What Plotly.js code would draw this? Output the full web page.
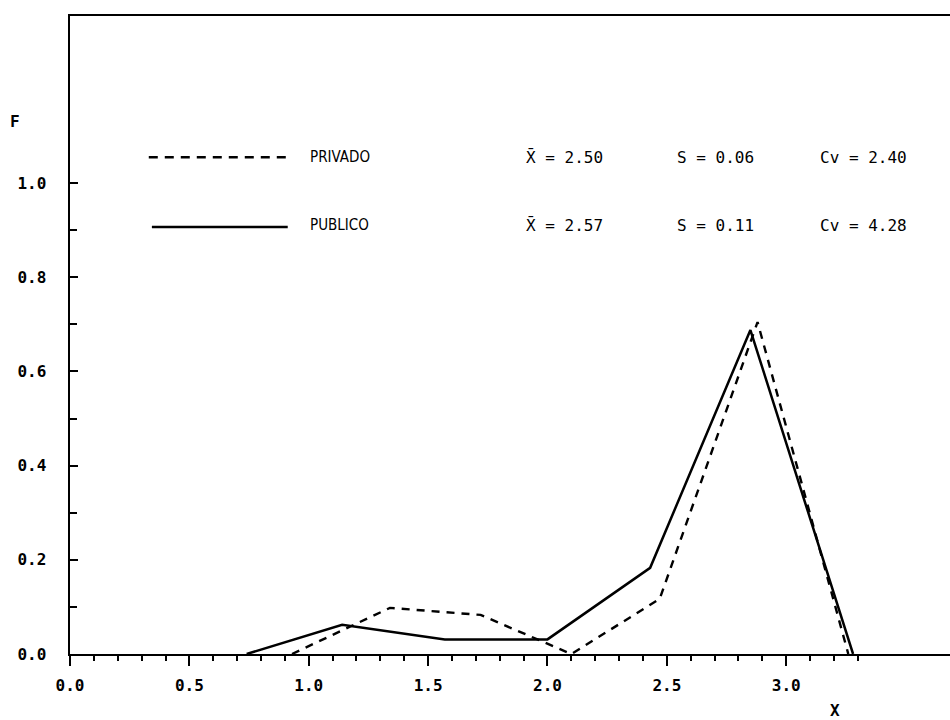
<!DOCTYPE html>
<html>
<head>
<meta charset="utf-8">
<script src="https://cdn.plot.ly/plotly-3.0.1.min.js"></script>
<style>html,body{margin:0;padding:0;background:#fff;}#chart{width:950px;height:720px;}</style>
</head>
<body>
<div id="chart"></div>
<script>
// Data
const xPublico = [0.74, 1.14, 1.57, 2.00, 2.43, 2.85, 3.28];
const yPublico = [0.00, 0.062, 0.031, 0.031, 0.183, 0.688, 0.00];
const xPrivado = [0.93, 1.34, 1.72, 2.10, 2.47, 2.88, 3.26];
const yPrivado = [0.00, 0.098, 0.083, 0.00, 0.117, 0.705, 0.00];

const majorTicks = [0.0, 0.5, 1.0, 1.5, 2.0, 2.5, 3.0];
const minorTicksX = [0.1,0.2,0.3,0.4,0.6,0.7,0.8,0.9,1.1,1.2,1.3,1.4,1.6,1.7,1.8,1.9,2.1,2.2,2.3,2.4,2.6,2.7,2.8,2.9,3.1,3.2,3.3];
const yTicks = [0.0, 0.2, 0.4, 0.6, 0.8, 1.0];
const minorTicksY = [0.1, 0.3, 0.5, 0.7, 0.9];

const seriesNames = ["PRIVADO", "PUBLICO"];
const meanLabels = ["X\u0304 = 2.50", "X\u0304 = 2.57"];
const sdLabels = ["S = 0.06", "S = 0.11"];
const cvLabels = ["Cv = 2.40", "Cv = 4.28"];

const MONO = "DejaVu Sans Mono";
const COND = "DejaVu Sans Condensed";

const traces = [
  {x: xPrivado, y: yPrivado, mode: 'lines', name: seriesNames[0],
   line: {color: '#000', width: 2.4, dash: '8px,7px'}, hoverinfo: 'skip'},
  {x: xPublico, y: yPublico, mode: 'lines', name: seriesNames[1],
   line: {color: '#000', width: 2.5}, hoverinfo: 'skip'}
];

const rowY = [1.055, 0.911];
const annotations = [];
for (let i = 0; i < 2; i++) {
  annotations.push({x: 0.996, y: rowY[i], xref: 'x', yref: 'y', xanchor: 'left', yanchor: 'middle',
    text: seriesNames[i], showarrow: false, font: {family: COND, size: 15, color: '#000'}});
  annotations.push({x: 1.90, y: rowY[i], xref: 'x', yref: 'y', xanchor: 'left', yanchor: 'middle',
    text: meanLabels[i], showarrow: false, font: {family: MONO, size: 16, color: '#000'}});
  annotations.push({x: 2.536, y: rowY[i], xref: 'x', yref: 'y', xanchor: 'left', yanchor: 'middle',
    text: sdLabels[i], showarrow: false, font: {family: MONO, size: 16, color: '#000'}});
  annotations.push({x: 3.134, y: rowY[i], xref: 'x', yref: 'y', xanchor: 'left', yanchor: 'middle',
    text: cvLabels[i], showarrow: false, font: {family: MONO, size: 16, color: '#000'}});
}
annotations.push({x: -0.0625, y: 0.835, xref: 'paper', yref: 'paper', xanchor: 'center', yanchor: 'middle',
  text: '<b>F</b>', showarrow: false, font: {family: MONO, size: 16, color: '#000'}});
annotations.push({x: 3.205, y: -0.089, xref: 'x', yref: 'paper', xanchor: 'center', yanchor: 'middle',
  text: '<b>X</b>', showarrow: false, font: {family: MONO, size: 16, color: '#000'}});

const shapes = [
  {type: 'line', xref: 'x', yref: 'y', x0: 0.33, x1: 0.912, y0: 1.055, y1: 1.055,
   line: {color: '#000', width: 2.4, dash: '9px,7px'}},
  {type: 'line', xref: 'x', yref: 'y', x0: 0.343, x1: 0.912, y0: 0.907, y1: 0.907,
   line: {color: '#000', width: 2.5}}
];

const layout = {
  width: 950, height: 720,
  margin: {l: 70, r: 0, t: 16, b: 66},
  paper_bgcolor: '#fff', plot_bgcolor: '#fff',
  showlegend: false,
  xaxis: {
    range: [0, 3.686], showgrid: false, zeroline: false,
    showline: true, linecolor: '#000', linewidth: 2, mirror: true,
    tickmode: 'array', tickvals: majorTicks, tickformat: '.1f',
    ticks: 'outside', ticklen: 10, tickwidth: 2, tickcolor: '#000',
    minor: {tickmode: 'array', tickvals: minorTicksX, ticks: 'outside', ticklen: 5, tickwidth: 2, tickcolor: '#000', showgrid: false},
    tickfont: {family: MONO, size: 16, color: '#000', weight: 'bold'},
    ticklabelstandoff: 6
  },
  yaxis: {
    range: [0, 1.355], showgrid: false, zeroline: false,
    showline: true, linecolor: '#000', linewidth: 2.5,
    tickmode: 'array', tickvals: yTicks, tickformat: '.1f',
    ticks: 'inside', ticklen: 8, tickwidth: 2, tickcolor: '#000',
    minor: {tickmode: 'array', tickvals: minorTicksY, ticks: 'inside', ticklen: 7, tickwidth: 2, tickcolor: '#000', showgrid: false},
    tickfont: {family: MONO, size: 16, color: '#000', weight: 'bold'},
    ticklabelstandoff: 18
  },
  annotations: annotations,
  shapes: shapes
};

Plotly.newPlot('chart', traces, layout, {staticPlot: true, displayModeBar: false});
</script>
</body>
</html>
